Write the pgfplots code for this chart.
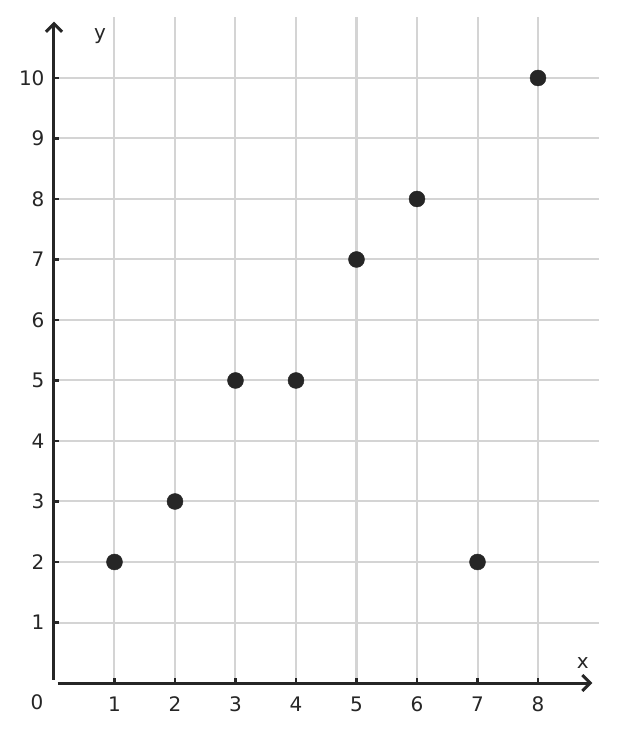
\documentclass[border=0pt]{standalone}
\usepackage{pgfplots}
\pgfplotsset{compat=1.18}
\usepackage{fontspec}
\setmainfont{DejaVu Sans}
\usetikzlibrary{arrows.meta}
\definecolor{ink}{RGB}{38,38,38}
\definecolor{gridc}{RGB}{212,212,212}
\begin{document}
\begin{tikzpicture}
\useasboundingbox (-54pt,-48pt) rectangle (562pt,683pt);
\begin{axis}[
    anchor=origin, at={(0pt,0pt)},
    x=60.5pt, y=60.5pt,
    xmin=0, xmax=9, ymin=0, ymax=11,
    axis lines=left,
    axis line style={draw=none},
    clip=false,
    xtick={1,...,8}, ytick={1,...,10},
    grid=major,
    grid style={line width=2pt, gridc},
    tick align=inside,
    major tick length=5pt,
    tick style={line width=2.5pt, ink},
    font=\fontsize{20}{24}\selectfont,
    tick label style={text=ink, font=\fontsize{20}{24}\selectfont},
    xticklabel style={yshift=-10pt},
    yticklabel style={xshift=-6pt},
    /pgf/number format/assume math mode=true,
]
\addplot[only marks, mark=*, mark size=8pt, mark options={fill=ink, draw=ink}]
 coordinates {
    (1,2) (2,3) (3,5) (4,5) (5,7) (6,8) (7,2) (8,10)
};
% axis arrows
\draw[line width=3pt, ink, -{Straight Barb[length=8pt,width=16pt]}] (axis cs:0.06,0) -- (axis cs:8.9,0);
\draw[line width=3pt, ink, -{Straight Barb[length=8pt,width=16pt]}] (axis cs:0,0.05) -- (axis cs:0,10.93);
\node[text=ink] at (axis cs:8.74,0.33) {x};
\node[text=ink] at (axis cs:0.76,10.69) {y};
\node[text=ink] at ([xshift=-17pt,yshift=-19pt]axis cs:0,0) {0};
\end{axis}
\end{tikzpicture}
\end{document}
